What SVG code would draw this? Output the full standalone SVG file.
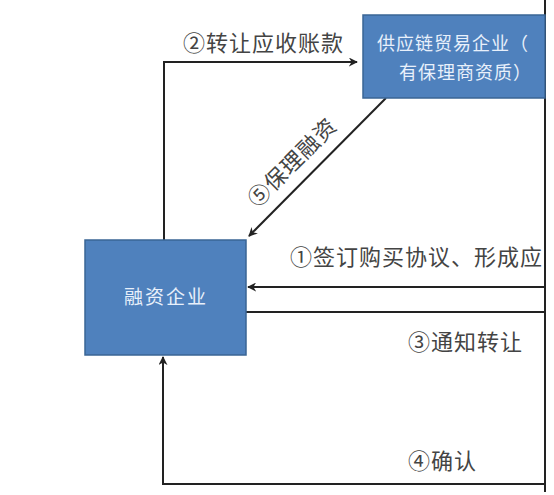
<svg xmlns="http://www.w3.org/2000/svg" width="554" height="495" viewBox="0 0 554 495">
<defs>
<marker id="ah" viewBox="0 0 10 10" refX="9" refY="5" markerWidth="9" markerHeight="9" markerUnits="userSpaceOnUse" orient="auto">
<path d="M0,0 L10,5 L0,10 L3,5 Z" fill="#222"/>
</marker>
<clipPath id="clipTop"><rect x="363" y="15" width="182" height="83"/></clipPath>
</defs>
<style>
.box{fill:#4f81bd;stroke:#3a6595;stroke-width:1.5}
.btxt{fill:#e8f0fb;font-family:"Noto Sans CJK SC","Noto Sans",sans-serif;font-size:18px;letter-spacing:1px}
.lbl{fill:#444;font-family:"Noto Sans CJK SC","Noto Sans",sans-serif;font-size:22px;letter-spacing:1px}
.ln{fill:none;stroke:#222;stroke-width:2}
</style>
<rect x="0" y="0" width="554" height="495" fill="#ffffff"/>
<g id="connectors">
<path class="ln" d="M164,240 V62 H357" marker-end="url(#ah)"/>
<line class="ln" x1="386" y1="98" x2="249" y2="236" marker-end="url(#ah)"/>
<line class="ln" x1="545" y1="287" x2="248" y2="287" marker-end="url(#ah)"/>
<line class="ln" x1="246" y1="312" x2="545" y2="312"/>
<path class="ln" d="M545,484 H163 V357" marker-end="url(#ah)"/>
<line class="ln" x1="545" y1="0" x2="545" y2="492"/>
</g>
<g id="node-supplier">
<rect class="box" x="363" y="15" width="182" height="83"/>
<g clip-path="url(#clipTop)">
<text class="btxt" x="377" y="50">供应链贸易企业（</text>
<text class="btxt" x="399" y="79">有保理商资质）</text>
</g>
</g>
<g id="node-financing">
<rect class="box" x="85" y="240" width="161" height="115"/>
<text class="btxt" x="166" y="304" text-anchor="middle" style="font-size:19px;letter-spacing:2px">融资企业</text>
</g>
<g id="labels">
<text class="lbl" x="183" y="51">②转让应收账款</text>
<text class="lbl" x="293" y="170" text-anchor="middle" transform="rotate(-45 293 163)">⑤保理融资</text>
<text class="lbl" x="290" y="265">①签订购买协议、形成应</text>
<text class="lbl" x="408" y="350">③通知转让</text>
<text class="lbl" x="408" y="469">④确认</text>
</g>
</svg>
